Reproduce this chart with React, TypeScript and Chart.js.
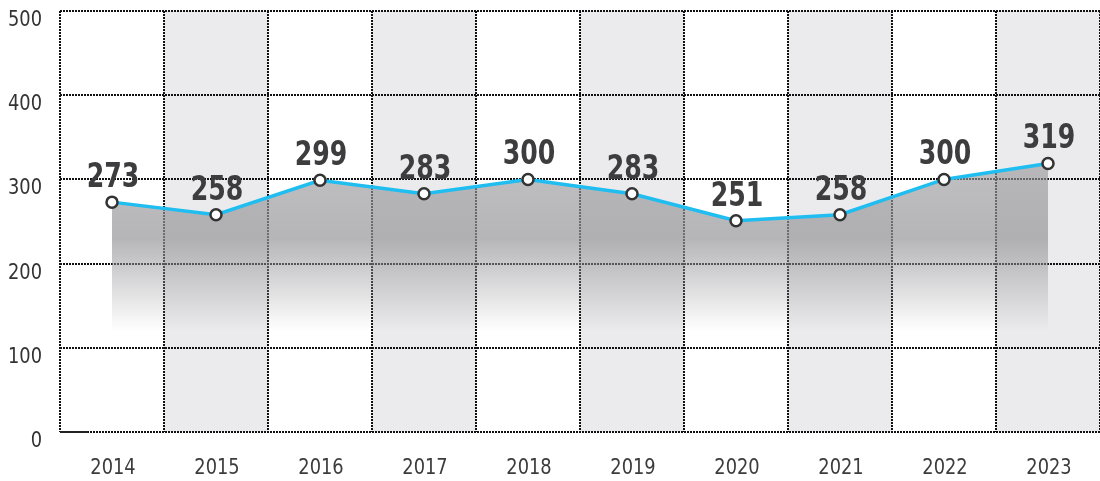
import React, { useEffect, useRef } from "react";
import { Chart, registerables } from "chart.js";

Chart.register(...registerables);

const years = ["2014", "2015", "2016", "2017", "2018", "2019", "2020", "2021", "2022", "2023"];
const values = [273, 258, 299, 283, 300, 283, 251, 258, 300, 319];
const yTicks = [0, 100, 200, 300, 400, 500];

const FONT = "'DejaVu Sans Condensed', 'DejaVu Sans', sans-serif";

function drawNarrow(ctx: any, text: string, x: number, y: number, sx: number, align: string) {
  ctx.save();
  ctx.translate(x, y);
  ctx.scale(sx, 1);
  ctx.textAlign = align;
  ctx.fillText(text, 0, 0);
  ctx.restore();
}

const bandPlugin = {
  id: "bands",
  beforeDraw(chart: any) {
    const { ctx, chartArea, scales } = chart;
    const x = scales.x;
    const n = years.length;
    const w = (chartArea.right - chartArea.left) / n;
    ctx.save();
    ctx.fillStyle = "#ebebed";
    for (let i = 0; i < n; i++) {
      if (i % 2 === 1) {
        const c = x.getPixelForValue(i);
        ctx.fillRect(c - w / 2, chartArea.top, w, chartArea.bottom - chartArea.top);
      }
    }
    ctx.restore();
  },
  afterDraw(chart: any) {
    const { ctx, chartArea, scales } = chart;
    ctx.save();
    ctx.strokeStyle = "#222";
    ctx.lineWidth = 2;
    ctx.beginPath();
    ctx.moveTo(chartArea.left, chartArea.bottom);
    ctx.lineTo(chartArea.left + 28, chartArea.bottom);
    ctx.stroke();

    // axis tick labels (narrow face)
    ctx.textBaseline = "alphabetic";
    ctx.font = "22px " + FONT;
    ctx.fillStyle = "#3c3c3c";
    scales.x.ticks.forEach((t: any, i: number) => {
      const px = scales.x.getPixelForTick(i);
      drawNarrow(ctx, String(scales.x.getLabelForValue(t.value)), px + 1, chartArea.bottom + 42, 0.9, "center");
    });
    ctx.font = "22px " + FONT;
    ctx.fillStyle = "#333";
    scales.y.ticks.forEach((t: any, i: number) => {
      const py = scales.y.getPixelForTick(i);
      drawNarrow(ctx, String(t.value), chartArea.left - 18, py + 15, 0.9, "right");
    });
    ctx.restore();
  },
};

const labelPlugin = {
  id: "valueLabels",
  afterDatasetsDraw(chart: any) {
    const { ctx } = chart;
    const meta = chart.getDatasetMeta(0);
    ctx.save();
    ctx.font = "bold 33px " + FONT;
    ctx.fillStyle = "#3d3d3f";
    ctx.textBaseline = "alphabetic";
    meta.data.forEach((pt: any, i: number) => {
      drawNarrow(ctx, String(values[i]), pt.x + 1, pt.y - 15, 0.85, "center");
    });
    ctx.restore();
  },
};

const zeroPad = (s: any) => {
  s.paddingTop = 0;
  s.paddingBottom = 0;
  s.paddingLeft = 0;
  s.paddingRight = 0;
};

export default function App() {
  const ref = useRef<HTMLCanvasElement>(null);
  useEffect(() => {
    if (!ref.current) return;
    const chart = new Chart(ref.current, {
      type: "line",
      data: {
        labels: years,
        datasets: [
          {
            data: values,
            borderColor: "#1fbdf0",
            borderWidth: 3.5,
            tension: 0,
            pointRadius: 5.5,
            pointBorderWidth: 2.5,
            pointBackgroundColor: "#ffffff",
            pointBorderColor: "#333333",
            fill: "origin",
            backgroundColor: (ctx: any) => {
              const chart = ctx.chart;
              const { chartArea, scales } = chart;
              if (!chartArea) return "rgba(150,150,155,0.6)";
              const y = scales.y;
              const g = chart.ctx.createLinearGradient(0, y.getPixelForValue(320), 0, y.getPixelForValue(120));
              g.addColorStop(0, "rgba(150,150,154,0.6)");
              g.addColorStop(0.45, "rgba(150,150,154,0.7)");
              g.addColorStop(1, "rgba(150,150,154,0)");
              return g;
            },
          },
        ],
      },
      options: {
        animation: false,
        responsive: true,
        maintainAspectRatio: false,
        layout: { autoPadding: false, padding: { top: 11, right: 0, left: 0, bottom: 0 } } as any,
        plugins: { legend: { display: false }, tooltip: { enabled: false } },
        scales: {
          x: {
            offset: true,
            grid: {
              offset: true,
              color: "#111",
              lineWidth: 2,
              drawTicks: false,
            } as any,
            border: { display: false, dash: [2, 1] } as any,
            ticks: { display: false },
            afterFit: (s: any) => {
              s.height = 49;
              zeroPad(s);
            },
          },
          y: {
            min: 0,
            max: 500,
            afterBuildTicks: (s: any) => {
              s.ticks = yTicks.map((v) => ({ value: v }));
            },
            grid: { color: "#111", lineWidth: 2, drawTicks: false },
            border: { display: false, dash: [2, 1] } as any,
            ticks: { display: false },
            afterFit: (s: any) => {
              s.width = 60;
              zeroPad(s);
            },
          },
        },
      },
      plugins: [bandPlugin, labelPlugin],
    });
    return () => chart.destroy();
  }, []);
  return (
    <div style={{ position: "fixed", left: 0, top: 0, width: 1100, height: 481 }}>
      <canvas ref={ref} />
    </div>
  );
}
